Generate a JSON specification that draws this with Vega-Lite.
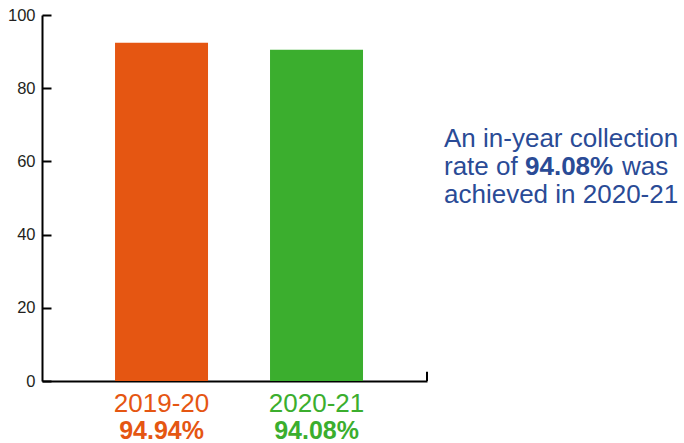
{
  "$schema": "https://vega.github.io/schema/vega-lite/v6.json",
  "background": "white",
  "padding": {"left": 7, "top": 7, "right": 0, "bottom": 0},
  "config": {"view": {"stroke": null}, "font": "Liberation Sans", "concat": {"spacing": 16}},
  "datasets": {
    "bars": [
      {"period": "2019-20", "value": 92.45, "rate": "94.94%"},
      {"period": "2020-21", "value": 90.5, "rate": "94.08%"}
    ],
    "note": [
      {"piece": "An in-year collection", "x": 0, "y": 63.8, "bold": false},
      {"piece": "rate of", "x": 0, "y": 56.2, "bold": false},
      {"piece": "94.08%", "x": 81, "y": 56.2, "bold": true},
      {"piece": "was", "x": 178, "y": 56.2, "bold": false},
      {"piece": "achieved in 2020-21", "x": 0, "y": 48.5, "bold": false}
    ]
  },
  "hconcat": [
    {
      "width": 385,
      "height": 366,
      "layer": [
        {
          "data": {"name": "bars"},
          "encoding": {
            "x": {
              "field": "period", "type": "nominal",
              "scale": {"paddingInner": 0.4, "paddingOuter": 0.442, "align": 0.533},
              "axis": {"labels": false, "ticks": false, "title": null, "domainColor": "black", "domainWidth": 2}
            },
            "color": {
              "field": "period", "type": "nominal",
              "scale": {"domain": ["2019-20", "2020-21"], "range": ["#e55612", "#3bae2e"]},
              "legend": null
            }
          },
          "layer": [
            {
              "mark": {"type": "bar"},
              "encoding": {
                "y": {
                  "field": "value", "type": "quantitative",
                  "scale": {"domain": [0, 100]},
                  "axis": {
                    "values": [0, 20, 40, 60, 80, 100], "title": null, "grid": false,
                    "domainColor": "black", "domainWidth": 2,
                    "tickColor": "black", "tickWidth": 2, "tickSize": -9,
                    "labelPadding": 16, "labelFontSize": 16.5, "labelColor": "#231f20"
                  }
                }
              }
            },
            {
              "mark": {"type": "text", "baseline": "alphabetic", "align": "center", "dy": 30.5, "fontSize": 26},
              "encoding": {
                "y": {"datum": 0, "type": "quantitative"},
                "text": {"field": "period"}
              }
            },
            {
              "mark": {"type": "text", "baseline": "alphabetic", "align": "center", "dy": 58, "fontSize": 25, "fontWeight": "bold"},
              "encoding": {
                "y": {"datum": 0, "type": "quantitative"},
                "text": {"field": "rate"}
              }
            }
          ]
        },
        {
          "data": {"values": [{"end": 1}]},
          "mark": {"type": "rule", "strokeWidth": 2, "color": "black"},
          "encoding": {
            "x": {"field": "end", "type": "quantitative", "scale": {"domain": [0, 1]}, "axis": null},
            "y": {"datum": 0, "type": "quantitative"},
            "y2": {"datum": 2.5}
          }
        }
      ],
      "resolve": {"scale": {"x": "independent"}}
    },
    {
      "width": 241,
      "height": 366,
      "data": {"name": "note"},
      "encoding": {
        "x": {"field": "x", "type": "quantitative", "scale": {"domain": [0, 241]}, "axis": null},
        "y": {"field": "y", "type": "quantitative", "scale": {"domain": [0, 100]}, "axis": null},
        "text": {"field": "piece"}
      },
      "layer": [
        {
          "transform": [{"filter": "!datum.bold"}],
          "mark": {"type": "text", "align": "left", "baseline": "alphabetic", "fontSize": 26, "color": "#2a4b96"}
        },
        {
          "transform": [{"filter": "datum.bold"}],
          "mark": {"type": "text", "align": "left", "baseline": "alphabetic", "fontSize": 26, "fontWeight": "bold", "color": "#2a4b96"}
        }
      ]
    }
  ]
}
